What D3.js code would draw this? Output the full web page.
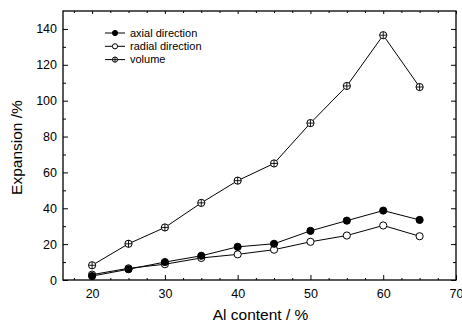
<!DOCTYPE html>
<html>
<head>
<meta charset="utf-8">
<script src="https://cdn.jsdelivr.net/npm/d3@7"></script>
<style>
  body { margin: 0; background: #fff; }
  svg { font-family: "Liberation Sans", Arial, sans-serif; }
</style>
</head>
<body>
<div id="chart"></div>
<script>
// data
const alContent = [20, 25, 30, 35, 40, 45, 50, 55, 60, 65];
const axial = [2.2, 6.0, 10.0, 13.5, 18.5, 20.2, 27.4, 33.1, 38.7, 33.5];
const radial = [3.0, 6.5, 8.8, 12.3, 14.3, 16.9, 21.3, 24.8, 30.4, 24.4];
const volume = [8.2, 20.2, 29.3, 43.0, 55.4, 65.0, 87.5, 108.2, 136.5, 107.6];
const seriesNames = ["axial direction", "radial direction", "volume"];
const xTicks = [20, 30, 40, 50, 60, 70];
const yTicks = [0, 20, 40, 60, 80, 100, 120, 140];

const W = 462, H = 325;
const margin = {top: 11, right: 6, bottom: 45, left: 63};
const width = W - margin.left - margin.right;
const height = H - margin.top - margin.bottom;

const svg = d3.select("#chart").append("svg")
  .attr("width", W).attr("height", H);
const g = svg.append("g")
  .attr("transform", "translate(" + margin.left + "," + margin.top + ")");

const x = d3.scaleLinear().domain([16, 70]).range([0, width]);
const y = d3.scaleLinear().domain([0, 150]).range([height, 0]);

// minor ticks (inward) on all sides
const xMinor = d3.range(17.5, 70, 2.5).filter(v => v % 10 !== 0);
const yMinor = d3.range(10, 150, 10).filter(v => v % 20 !== 0);

g.append("g").attr("transform", "translate(0," + height + ")")
  .call(d3.axisBottom(x).tickValues(xMinor).tickSize(-2).tickFormat(""))
  .call(a => a.select(".domain").remove());
g.append("g")
  .call(d3.axisTop(x).tickValues(xMinor).tickSize(-2).tickFormat(""))
  .call(a => a.select(".domain").remove());
g.append("g")
  .call(d3.axisLeft(y).tickValues(yMinor).tickSize(-3).tickFormat(""))
  .call(a => a.select(".domain").remove());
g.append("g").attr("transform", "translate(" + width + ",0)")
  .call(d3.axisRight(y).tickValues(yMinor).tickSize(-3).tickFormat(""))
  .call(a => a.select(".domain").remove());
g.append("g")
  .call(d3.axisTop(x).tickValues(xTicks).tickSize(-3).tickFormat(""))
  .call(a => a.select(".domain").remove());
g.append("g").attr("transform", "translate(" + width + ",0)")
  .call(d3.axisRight(y).tickValues(yTicks).tickSize(-5).tickFormat(""))
  .call(a => a.select(".domain").remove());

// major axes with labels
const xAxis = g.append("g").attr("transform", "translate(0," + height + ")")
  .call(d3.axisBottom(x).tickValues(xTicks).tickSize(-5).tickPadding(9));
const yAxis = g.append("g")
  .call(d3.axisLeft(y).tickValues(yTicks).tickSize(-5).tickPadding(6));
[xAxis, yAxis].forEach(a => {
  a.select(".domain").remove();
  a.selectAll("text").attr("font-size", 12.5).attr("fill", "#000")
    .attr("font-family", "Liberation Sans, Arial, sans-serif");
});
g.selectAll(".tick line").attr("stroke", "#000");

// frame
g.append("rect").attr("width", width).attr("height", height)
  .attr("fill", "none").attr("stroke", "#000").attr("stroke-width", 1.3);

const line = d3.line().x((d, i) => x(alContent[i])).y(d => y(d));

function drawMarker(sel, kind, r) {
  if (kind === 0) {
    sel.append("circle").attr("r", r).attr("fill", "#000").attr("stroke", "#000");
  } else if (kind === 1) {
    sel.append("circle").attr("r", r).attr("fill", "#fff").attr("stroke", "#000");
  } else {
    sel.append("circle").attr("r", r).attr("fill", "#fff").attr("stroke", "#000");
    sel.append("path").attr("d", "M" + (-r) + ",0H" + r + "M0," + (-r) + "V" + r)
      .attr("stroke", "#000").attr("stroke-width", 0.9);
  }
}

const allSeries = [axial, radial, volume];
allSeries.forEach((vals, k) => {
  g.append("path").datum(vals).attr("d", line)
    .attr("fill", "none").attr("stroke", "#000").attr("stroke-width", 1);
});
// draw markers: volume, radial, then axial on top
[2, 1, 0].forEach(k => {
  allSeries[k].forEach((v, i) => {
    const m = g.append("g")
      .attr("transform", "translate(" + x(alContent[i]) + "," + y(v) + ")");
    drawMarker(m, k, 3.6);
  });
});

// legend
const legend = svg.append("g").attr("transform", "translate(105,33)");
seriesNames.forEach((name, k) => {
  const row = legend.append("g").attr("transform", "translate(0," + (k * 13.3) + ")");
  row.append("line").attr("x1", 0).attr("x2", 20).attr("stroke", "#000");
  const m = row.append("g").attr("transform", "translate(10,0)");
  drawMarker(m, k, 2.6);
  row.append("text").attr("x", 25).attr("y", 0).attr("dy", "0.35em")
    .attr("font-size", 11).text(name);
});

// axis titles
svg.append("text").attr("x", margin.left + width / 2 + 1).attr("y", 320)
  .attr("text-anchor", "middle").attr("font-size", 15.5).text("Al content / %");
svg.append("text")
  .attr("transform", "translate(22," + (margin.top + height / 2 + 2) + ") rotate(-90)")
  .attr("text-anchor", "middle").attr("font-size", 15.5).text("Expansion /%");
</script>
</body>
</html>
